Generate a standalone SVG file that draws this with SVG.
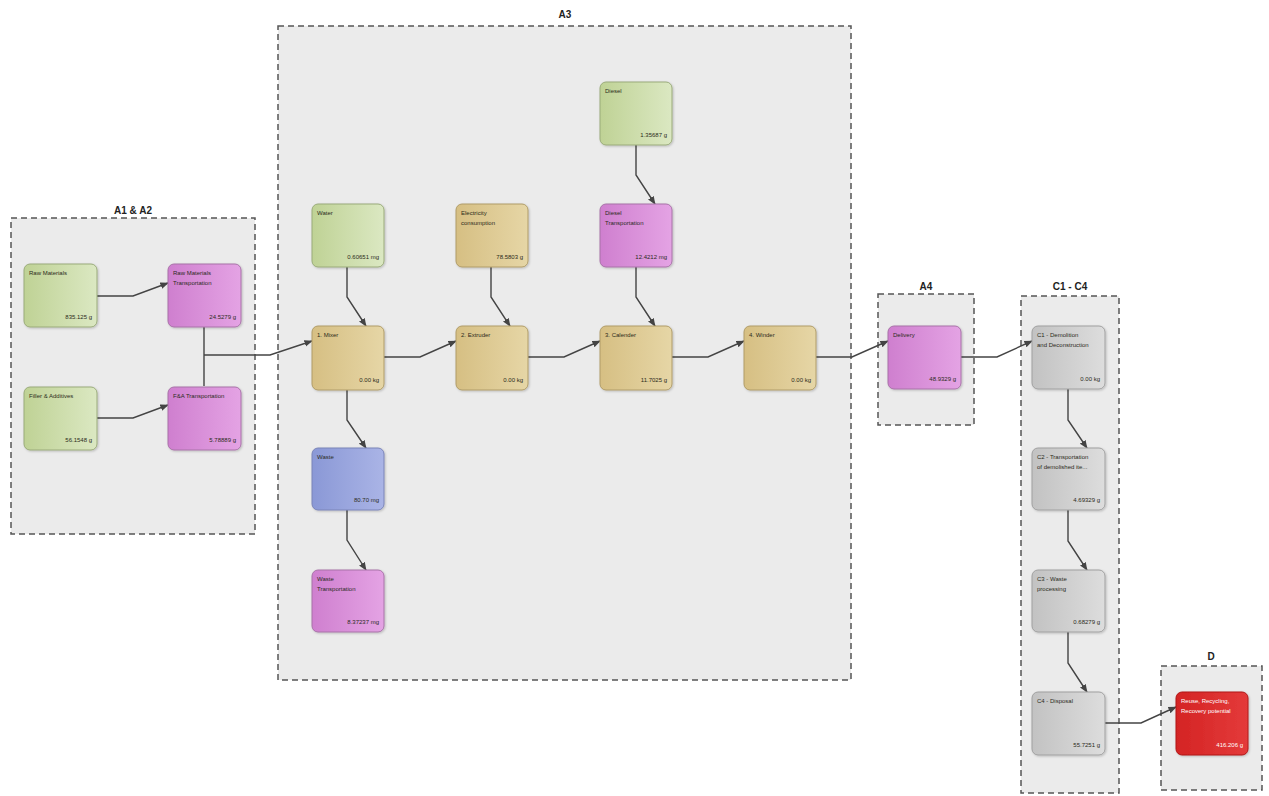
<svg xmlns="http://www.w3.org/2000/svg" width="1269" height="796" viewBox="0 0 1269 796">
<defs>
<style>
.grp{fill:#ebebeb;stroke:#555;stroke-width:1.5;stroke-dasharray:6,4}
.gt{font-family:"Liberation Sans",Arial,sans-serif;font-size:10px;font-weight:bold;fill:#222;text-anchor:middle}
.n{stroke-width:1;filter:url(#sh)}
.green{fill:url(#gGreen);stroke:#9aab7a}
.purple{fill:url(#gPurple);stroke:#a873a8}
.tan{fill:url(#gTan);stroke:#b09c68}
.blue{fill:url(#gBlue);stroke:#7a84b8}
.grey{fill:url(#gGrey);stroke:#a0a0a0}
.red{fill:url(#gRed);stroke:#b01818}
.t{font-family:"Liberation Sans",Arial,sans-serif;font-size:6px;fill:#2b2b1a}
.v{font-family:"Liberation Sans",Arial,sans-serif;font-size:6px;fill:#2b2b1a;text-anchor:end}
.w{fill:#fff}
.c{fill:none;stroke:#444;stroke-width:1.4;marker-end:url(#ah)}
.l{fill:none;stroke:#444;stroke-width:1.4}
</style>
<linearGradient id="gGreen" x1="0" y1="0" x2="1" y2="0"><stop offset="0" stop-color="#bfd295"/><stop offset="1" stop-color="#dbe8c2"/></linearGradient>
<linearGradient id="gPurple" x1="0" y1="0" x2="1" y2="0"><stop offset="0" stop-color="#cf7fcf"/><stop offset="1" stop-color="#e4a3e4"/></linearGradient>
<linearGradient id="gTan" x1="0" y1="0" x2="1" y2="0"><stop offset="0" stop-color="#d6bf83"/><stop offset="1" stop-color="#e6d6a6"/></linearGradient>
<linearGradient id="gBlue" x1="0" y1="0" x2="1" y2="0"><stop offset="0" stop-color="#8a98d6"/><stop offset="1" stop-color="#aab4e6"/></linearGradient>
<linearGradient id="gGrey" x1="0" y1="0" x2="1" y2="0"><stop offset="0" stop-color="#c2c2c2"/><stop offset="1" stop-color="#dddddd"/></linearGradient>
<linearGradient id="gRed" x1="0" y1="0" x2="1" y2="0"><stop offset="0" stop-color="#d42424"/><stop offset="1" stop-color="#e43a3a"/></linearGradient>
<filter id="sh" x="-10%" y="-10%" width="125%" height="125%"><feDropShadow dx="1" dy="1" stdDeviation="1" flood-color="#000" flood-opacity="0.2"/></filter>
<marker id="ah" viewBox="0 0 10 10" refX="9" refY="5" markerWidth="6" markerHeight="6" orient="auto"><path d="M0,1 L10,5 L0,9 z" fill="#444"/></marker>
</defs>
<rect width="1269" height="796" fill="#fff"/>

<g id="group-A1A2"><rect class="grp" x="11" y="218" width="244" height="316"/><text class="gt" x="133" y="214">A1 &amp; A2</text></g>
<g id="group-A3"><rect class="grp" x="278" y="26" width="573" height="654"/><text class="gt" x="565" y="18">A3</text></g>
<g id="group-A4"><rect class="grp" x="878" y="294" width="96" height="131"/><text class="gt" x="926" y="290">A4</text></g>
<g id="group-C"><rect class="grp" x="1021" y="296" width="98" height="497"/><text class="gt" x="1070" y="290">C1 - C4</text></g>
<g id="group-D"><rect class="grp" x="1161" y="666" width="101" height="124"/><text class="gt" x="1211" y="660">D</text></g>

<g id="connectors">
<path class="c" d="M97,296 H133 L168,283"/>
<path class="c" d="M97,418 H133 L168,405"/>
<path class="l" d="M204,327 V386"/>
<path class="c" d="M204,355 H270 L312,341"/>
<path class="c" d="M347,267 V297 L366,326"/>
<path class="c" d="M347,390 V420 L366,448"/>
<path class="c" d="M347,510 V540 L366,570"/>
<path class="c" d="M491,267 V297 L510,326"/>
<path class="c" d="M384,357 H420 L456,341"/>
<path class="c" d="M636,145 V175 L655,204"/>
<path class="c" d="M636,267 V297 L655,326"/>
<path class="c" d="M528,357 H564 L600,341"/>
<path class="c" d="M672,357 H708 L744,341"/>
<path class="c" d="M816,357 H852 L888,341"/>
<path class="c" d="M961,357 H997 L1032,341"/>
<path class="c" d="M1068,389 V420 L1087,448"/>
<path class="c" d="M1068,510 V541 L1087,570"/>
<path class="c" d="M1068,632 V663 L1087,692"/>
<path class="c" d="M1105,723 H1141 L1176,707"/>
</g>

<g id="n-raw"><rect class="n green" x="24" y="264" width="73" height="63" rx="6"/><text class="t" x="29" y="275">Raw Materials</text><text class="v" x="92" y="319">835.125 g</text></g>
<g id="n-rawtr"><rect class="n purple" x="168" y="264" width="73" height="63" rx="6"/><text class="t" x="173" y="275">Raw Materials</text><text class="t" x="173" y="285">Transportation</text><text class="v" x="236" y="319">24.5279 g</text></g>
<g id="n-filler"><rect class="n green" x="24" y="387" width="73" height="63" rx="6"/><text class="t" x="29" y="398">Filler &amp; Additives</text><text class="v" x="92" y="442">56.1548 g</text></g>
<g id="n-fatr"><rect class="n purple" x="168" y="387" width="73" height="63" rx="6"/><text class="t" x="173" y="398">F&amp;A Transportation</text><text class="v" x="236" y="442">5.78889 g</text></g>

<g id="n-water"><rect class="n green" x="312" y="204" width="72" height="63" rx="6"/><text class="t" x="317" y="215">Water</text><text class="v" x="379" y="259">0.60651 mg</text></g>
<g id="n-mixer"><rect class="n tan" x="312" y="326" width="72" height="64" rx="6"/><text class="t" x="317" y="337">1. Mixer</text><text class="v" x="379" y="382">0.00 kg</text></g>
<g id="n-waste"><rect class="n blue" x="312" y="448" width="72" height="62" rx="6"/><text class="t" x="317" y="459">Waste</text><text class="v" x="379" y="502">80.70 mg</text></g>
<g id="n-wastetr"><rect class="n purple" x="312" y="570" width="72" height="62" rx="6"/><text class="t" x="317" y="581">Waste</text><text class="t" x="317" y="591">Transportation</text><text class="v" x="379" y="624">8.37237 mg</text></g>
<g id="n-elec"><rect class="n tan" x="456" y="204" width="72" height="63" rx="6"/><text class="t" x="461" y="215">Electricity</text><text class="t" x="461" y="225">consumption</text><text class="v" x="523" y="259">78.5803 g</text></g>
<g id="n-extruder"><rect class="n tan" x="456" y="326" width="72" height="64" rx="6"/><text class="t" x="461" y="337">2. Extruder</text><text class="v" x="523" y="382">0.00 kg</text></g>
<g id="n-diesel"><rect class="n green" x="600" y="82" width="72" height="63" rx="6"/><text class="t" x="605" y="93">Diesel</text><text class="v" x="667" y="137">1.35687 g</text></g>
<g id="n-dieseltr"><rect class="n purple" x="600" y="204" width="72" height="63" rx="6"/><text class="t" x="605" y="215">Diesel</text><text class="t" x="605" y="225">Transportation</text><text class="v" x="667" y="259">12.4212 mg</text></g>
<g id="n-calender"><rect class="n tan" x="600" y="326" width="72" height="64" rx="6"/><text class="t" x="605" y="337">3. Calender</text><text class="v" x="667" y="382">11.7025 g</text></g>
<g id="n-winder"><rect class="n tan" x="744" y="326" width="72" height="64" rx="6"/><text class="t" x="749" y="337">4. Winder</text><text class="v" x="811" y="382">0.00 kg</text></g>

<g id="n-delivery"><rect class="n purple" x="888" y="326" width="73" height="63" rx="6"/><text class="t" x="893" y="337">Delivery</text><text class="v" x="956" y="381">48.9329 g</text></g>

<g id="n-c1"><rect class="n grey" x="1032" y="326" width="73" height="63" rx="6"/><text class="t" x="1037" y="337">C1 - Demolition</text><text class="t" x="1037" y="347">and Deconstruction</text><text class="v" x="1100" y="381">0.00 kg</text></g>
<g id="n-c2"><rect class="n grey" x="1032" y="448" width="73" height="62" rx="6"/><text class="t" x="1037" y="459">C2 - Transportation</text><text class="t" x="1037" y="469">of demolished ite...</text><text class="v" x="1100" y="502">4.69329 g</text></g>
<g id="n-c3"><rect class="n grey" x="1032" y="570" width="73" height="62" rx="6"/><text class="t" x="1037" y="581">C3 - Waste</text><text class="t" x="1037" y="591">processing</text><text class="v" x="1100" y="624">0.68279 g</text></g>
<g id="n-c4"><rect class="n grey" x="1032" y="692" width="73" height="63" rx="6"/><text class="t" x="1037" y="703">C4 - Disposal</text><text class="v" x="1100" y="747">55.7251 g</text></g>

<g id="n-d"><rect class="n red" x="1176" y="692" width="72" height="63" rx="6"/><text class="t w" x="1181" y="703">Reuse, Recycling,</text><text class="t w" x="1181" y="713">Recovery potential</text><text class="v w" x="1243" y="747">416.206 g</text></g>
</svg>
